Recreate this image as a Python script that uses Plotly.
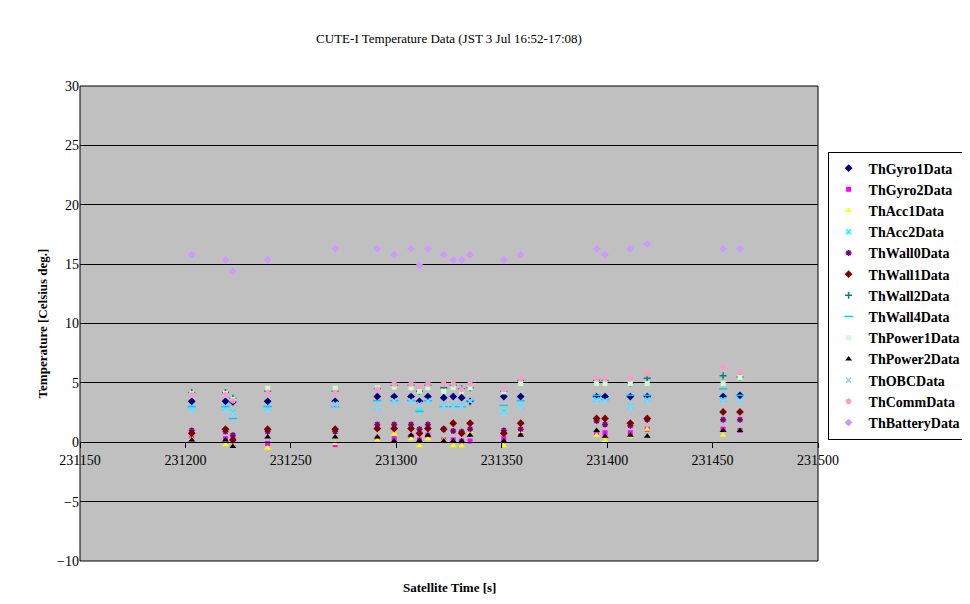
import plotly.graph_objects as go

time = [231203, 231219, 231222.5, 231239, 231271, 231291, 231299, 231307, 231311, 231315,
        231322.5, 231327, 231331, 231335, 231351, 231359, 231395, 231399, 231411, 231419, 231455, 231463]

gyro1 = [3.45, 3.45, 3.4, 3.45, 3.45, 3.85, 3.85, 3.85, 3.45, 3.85, 3.75, 3.85, 3.75, 3.45, 3.85, 3.85, 3.85, 3.85, 3.85, 3.85, 3.85, 3.95]
gyro2 = [0.3, 0.3, 0.3, -0.1, -0.2, 0.3, 0.3, 0.5, 0.2, 0.6, 0.2, 0.2, 0.1, 0.1, 0.3, 0.8, 0.8, 0.8, 0.8, 1.1, 1.1, 1.0]
acc1 = [0.3, -0.2, 0.3, -0.5, -0.1, 0.2, 0.7, 0.3, -0.3, 0.3, 0.2, -0.3, -0.3, 0.9, -0.3, 0.9, 0.6, 0.15, 0.5, 1.1, 0.6, 1.0]
acc2 = [2.9, 2.9, 2.5, 2.9, 3.2, 2.9, 3.5, 3.5, 2.7, 3.5, 3.1, 3.1, 3.1, 3.5, 2.6, 3.0, 3.6, 3.5, 3.0, 3.6, 3.6, 3.5]
wall0 = [1.0, 0.9, 0.6, 0.9, 0.9, 1.5, 1.5, 1.5, 1.1, 1.5, 1.1, 0.95, 0.9, 1.1, 1.0, 1.1, 1.8, 1.5, 1.4, 1.9, 1.9, 1.9]
wall1 = [0.75, 1.1, 0.2, 1.1, 1.1, 1.15, 1.15, 1.15, 0.75, 1.15, 1.1, 1.6, 0.75, 1.6, 0.75, 1.6, 2.0, 2.0, 1.6, 2.0, 2.55, 2.55]
wall2 = [4.2, 4.2, 3.7, 4.3, 4.3, 4.5, 4.8, 4.8, 4.3, 4.8, 4.6, 4.8, 4.5, 4.6, 4.3, 5.2, 5.2, 5.2, 5.0, 5.4, 5.6, 5.5]
wall4 = [3.0, 3.0, 2.0, 3.0, 3.0, 3.5, 3.5, 3.5, 2.6, 3.5, 3.0, 3.0, 3.0, 3.5, 3.1, 3.5, 3.95, 3.6, 3.95, 3.95, 4.5, 3.95]
power1 = [4.1, 4.1, 3.6, 4.55, 4.55, 4.6, 4.65, 4.6, 4.3, 4.6, 4.3, 4.6, 4.3, 4.6, 4.25, 4.95, 4.95, 4.95, 4.95, 4.95, 4.95, 5.45]
power2 = [0.2, 0.2, -0.35, 0.45, 0.45, 0.45, 0.1, 0.6, 0.15, 0.6, 0.1, 0.1, 0.1, 0.6, 0.1, 0.6, 1.0, 0.5, 0.6, 0.5, 1.0, 1.0]
obc = [2.7, 2.7, 2.4, 2.7, 3.2, 2.85, 3.45, 3.45, 3.2, 3.45, 3.0, 3.0, 3.0, 3.45, 2.4, 2.9, 3.45, 3.45, 2.9, 3.45, 3.45, 3.45]
comm = [4.0, 4.0, 3.5, 4.2, 4.2, 4.45, 4.9, 4.9, 4.7, 4.9, 4.9, 4.9, 4.45, 4.9, 4.45, 5.35, 5.35, 5.35, 5.35, 5.8, 6.3, 5.9]
battery = [15.8, 15.35, 14.4, 15.35, 16.3, 16.3, 15.8, 16.3, 14.9, 16.3, 15.8, 15.35, 15.35, 15.8, 15.35, 15.8, 16.3, 15.8, 16.3, 16.7, 16.3, 16.3]

series = [
    ("ThGyro1Data", gyro1, "diamond", "#000080", 6),
    ("ThGyro2Data", gyro2, "square", "#FF00FF", 5),
    ("ThAcc1Data", acc1, "triangle-up", "#FFFF00", 6),
    ("ThAcc2Data", acc2, "x-thin", "#00FFFF", 5),
    ("ThWall0Data", wall0, "asterisk", "#800080", 5),
    ("ThWall1Data", wall1, "diamond", "#800000", 6),
    ("ThWall2Data", wall2, "cross-thin", "#008080", 5),
    ("ThWall4Data", wall4, "line-ew", "#00CCFF", 6),
    ("ThPower1Data", power1, "square", "#CCFFCC", 5),
    ("ThPower2Data", power2, "triangle-up", "#000000", 6),
    ("ThOBCData", obc, "x-thin", "#99CCFF", 5),
    ("ThCommData", comm, "asterisk", "#FF99CC", 5),
    ("ThBatteryData", battery, "diamond", "#CC99FF", 6),
]

fig = go.Figure()
for name, vals, sym, col, sz in series:
    open_sym = sym in ("x-thin", "asterisk", "cross-thin", "line-ew")
    fig.add_trace(go.Scatter(
        x=time, y=vals, mode="markers", name=name,
        marker=dict(symbol=sym, color=col, size=sz,
                    line=dict(color=col, width=1.5 if open_sym else 0)),
    ))

font = "Liberation Serif, Times New Roman, serif"
fig.update_layout(
    width=970, height=604,
    margin=dict(l=72, r=160, t=78, b=51),
    paper_bgcolor="white", plot_bgcolor="#C0C0C0",
    font=dict(family=font, size=13, color="black"),
    title=dict(text="CUTE-I Temperature Data (JST 3 Jul 16:52-17:08)", x=0.5, xref="paper",
               y=0.95, yanchor="middle", font=dict(size=13)),
    showlegend=True,
    legend=dict(x=1.013, y=0.862, xanchor="left", yanchor="top", bgcolor="white",
                bordercolor="black", borderwidth=1, tracegroupgap=0,
                font=dict(family=font, size=14, weight="bold")),
    xaxis=dict(range=[231150, 231500], dtick=50, anchor="free", position=0.25,
               showgrid=False, zeroline=False, showline=True, linecolor="black",
               ticks="outside", ticklen=5, tickcolor="black", tickformat="d",
               tickfont=dict(size=14), automargin=False),
    yaxis=dict(range=[-10, 30], dtick=5, showgrid=True, gridcolor="black", gridwidth=1,
               zeroline=False, showline=False, ticks="", tickfont=dict(size=14),
               automargin=False,
               title=dict(text="Temperature [Celsius deg.]", font=dict(size=13, weight="bold"), standoff=6)),
    shapes=[dict(type="rect", xref="paper", yref="paper", x0=0, y0=0, x1=1, y1=1,
                 line=dict(color="black", width=1))],
    annotations=[dict(text="Satellite Time [s]", xref="paper", yref="paper", x=0.5, y=-0.035,
                      yanchor="top", showarrow=False, font=dict(size=13, weight="bold"))],
)

fig.write_html("out.html")
